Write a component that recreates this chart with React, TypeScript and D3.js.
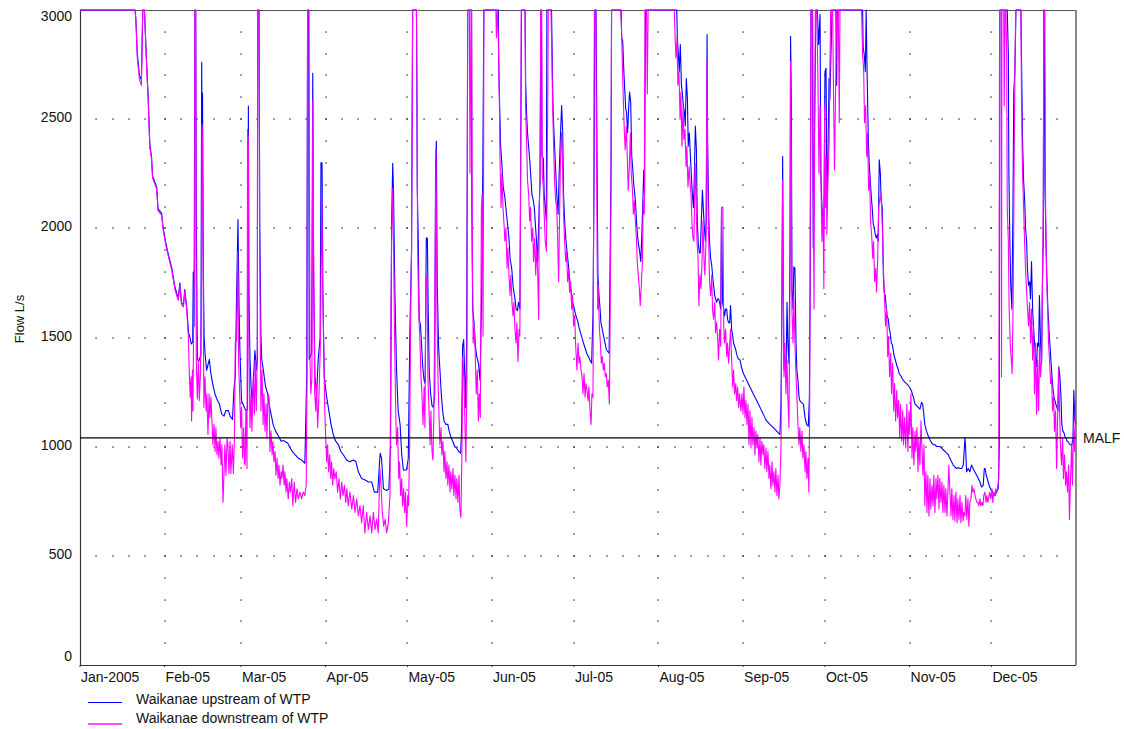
import React from "react";
import * as d3 from "d3";

const YEAR_START = Date.UTC(2005, 0, 1);
const YEAR_END = Date.UTC(2006, 0, 1);
const monthLabels = ["Jan-2005", "Feb-05", "Mar-05", "Apr-05", "May-05", "Jun-05", "Jul-05", "Aug-05", "Sep-05", "Oct-05", "Nov-05", "Dec-05"];
const yTickValues = [0, 500, 1000, 1500, 2000, 2500, 3000];
const gridValues = [500, 1000, 1500, 2000, 2500];
const malfValue = 1040;
const malfLabel = "MALF";
const yAxisTitle = "Flow L/s";
const seriesNames = ["Waikanae upstream of WTP", "Waikanae downstream of WTP"];
const seriesColors = ["#0000ff", "#ff00ff"];

// [day of 2005 (0 = 1 Jan), flow L/s] — values above 3000 are shown at the axis maximum
const upstream: [number, number][] = [
  [0,3000],[20.2,3000],[20.5,2950],[21.0,2800],[21.8,2700],[22.5,2680],[23.0,3000],[23.6,3000],[24.0,2880],[24.4,2760],[25.0,2600],[25.6,2380],[26.2,2330],[26.6,2240],[28.1,2190],[28.6,2090],[29.9,2070],[30.5,2000],[31.5,1930],[32.4,1880],[33.6,1820],[34.8,1730],[36.0,1680],[36.6,1750],[37.2,1660],[37.9,1650],[38.4,1720],[39.1,1640],[39.8,1520],[40.3,1500],[40.8,1470],[41.3,1480],[41.5,1800],[41.8,1550],[42.1,3000],[42.4,3000],[42.6,2100],[43.0,1400],[43.5,1390],[44.3,1420],[44.6,2760],[44.8,2200],[44.9,2620],[45.2,1790],[45.5,1500],[45.8,1430],[46.4,1350],[47.4,1400],[47.9,1340],[48.6,1290],[49.5,1240],[50.1,1220],[51.1,1195],[51.9,1150],[52.8,1140],[53.4,1165],[54.4,1165],[55.0,1140],[55.9,1125],[56.4,1260],[56.9,1320],[57.4,1710],[57.9,2040],[58.3,1630],[58.6,1440],[59.2,1210],[59.9,1190],[60.8,1165],[61.4,1170],
  [61.7,2560],[61.9,1720],[62.3,1400],[62.7,1270],[63.1,1195],[64.1,1440],[64.7,1350],[65.0,1400],[65.1,3000],[65.6,3000],[65.9,1995],[66.3,1510],[66.6,1400],[67.2,1350],[67.5,1320],[68.0,1275],[68.8,1240],[69.3,1195],[70.0,1150],[70.8,1100],[71.7,1070],[72.7,1050],[73.7,1025],[74.5,1028],[76.1,1017],[77.0,994],[77.8,978],[78.8,963],[80.0,947],[81.2,939],[82.4,924],[83.1,1330],[83.4,3000],[83.8,3000],[84.0,1400],[84.9,1430],[85.3,2710],[85.6,1790],[86.1,1320],[86.7,1240],[87.3,1400],[88.0,1500],[88.3,2300],[88.7,2300],[89.0,1710],[89.5,1320],[90.4,1227],[91.2,1164],[92.0,1102],[92.8,1056],[93.7,1025],[94.7,1009],[95.6,978],[96.5,963],[97.7,939],[98.9,931],[100.2,939],[101.1,931],[102.0,885],[103.2,854],[104.7,846],[105.7,838],[106.9,838],[107.9,792],[109.1,792],[110.0,970],[110.5,947],[111.2,807],[112.4,799],[113.2,807],[113.8,1009],[114.2,2034],[114.6,2298],[114.9,2158],[115.4,1708],[116.0,1351],[116.6,1164],[117.3,1102],[117.9,963],[118.5,893],[119.7,893],[120.3,947],[120.9,1537],[121.5,1894],[121.9,3000],
  [123.3,3000],[123.4,2756],[123.6,2189],[124.0,1925],[124.3,1584],[124.8,1553],[125.2,1460],[125.6,1366],[126.1,1304],[126.5,1289],[126.9,1956],[127.3,1956],[127.6,1630],[128.0,1335],[128.5,1242],[129.0,1188],[129.5,1180],[130.0,1242],[130.3,2298],[130.6,2399],[130.9,1755],[131.4,1460],[131.9,1351],[132.4,1242],[132.9,1164],[133.4,1118],[134.1,1102],[134.8,1102],[135.3,1071],[135.8,1048],[136.6,1025],[137.3,1001],[138.0,994],[138.8,978],[139.5,970],[139.9,1102],[140.2,1460],[140.6,1491],[141.0,1320],[141.3,1180],[141.7,1475],[142.1,3000],[143.5,3000],[143.6,2096],[143.9,1630],[144.4,1568],[144.9,1460],[145.4,1413],[146.0,1382],[146.6,1304],[147.2,1700],[147.6,2252],[148.0,3000],[153.3,3000],[153.5,2717],[153.9,2500],[154.1,2391],[154.5,2314],[155.1,2189],[155.7,2143],[156.3,2065],[156.7,2019],[157.2,1956],[157.6,1863],[158.2,1817],[158.8,1724],[159.4,1677],[159.8,1630],[160.3,1623],[160.7,1661],[161.2,1630],[161.6,2562],[161.8,3000],[163.1,3000],[163.3,2671],[163.7,2515],[164.0,2438],[164.4,2376],[164.9,2298],[165.3,2220],[165.6,2158],[166.1,2127],[166.5,2096],[166.8,2034],[167.3,1941],[167.7,1848],[168.1,2019],[168.6,2220],[168.9,3000],[169.1,3000],[169.3,2330],[169.8,2321],[170.1,2158],[170.5,2096],[170.9,2034],[171.1,3000],[172.8,3000],[173.2,2655],[173.4,2531],[173.8,2407],[174.2,2298],[174.7,2158],[175.2,2065],[175.6,2252],[176.1,2438],[176.5,2562],[176.9,2438],[177.2,2158],[177.6,2034],[178.1,1941],[178.6,1879],[179.1,1817],[179.5,1755],[180.0,1708],[180.5,1661],[181.0,1640],[181.5,1610],[182.0,1590],[182.4,1575],[182.9,1545],
  [183.4,1522],[183.8,1506],[184.5,1475],[185.1,1452],[185.7,1428],[186.3,1413],[186.9,1397],[187.5,1382],[188.0,1615],[188.4,2252],[188.6,3000],[189.1,3000],[189.3,2655],[189.6,2096],[189.8,1786],[190.2,1692],[190.6,1630],[190.9,1568],[191.4,1537],[191.9,1506],[192.4,1475],[192.9,1444],[193.4,1436],[193.9,1428],[194.2,1770],[194.6,2267],[194.8,3000],[198.3,3000],[198.5,2873],[198.9,2857],[199.2,2748],[199.6,2640],[200.0,2547],[200.3,2531],[200.7,2438],[201.1,2562],[201.4,2624],[201.8,2578],[202.2,2329],[202.5,2283],[202.9,2205],[203.3,2158],[203.6,2112],[204.0,2019],[204.4,1956],[204.7,1925],[205.1,1894],[205.5,1848],[205.8,1941],[206.2,2096],[206.6,2267],[206.9,2158],[207.2,3000],[218.7,3000],[218.9,2873],[219.3,2795],[219.6,2717],[220.0,2842],[220.4,2655],[220.7,2624],[221.1,2562],[221.5,2531],[221.8,2469],[222.2,2686],[222.6,2593],[222.9,2376],[223.3,2438],[223.7,2329],[224.0,2252],[224.4,2158],[224.8,2096],[225.1,2220],[225.5,2469],[225.9,2360],[226.2,2034],[226.6,1925],[227.0,1887],[227.3,1887],[227.7,2034],[228.1,2174],[228.4,2096],[228.8,2003],[229.2,1941],[229.5,2034],[229.8,2888],[230.0,2407],[230.4,2065],[230.7,1941],[231.1,1863],[231.5,1832],[231.8,1786],[232.2,1739],[232.6,1692],[232.9,1677],[233.3,1661],[233.7,1677],[234.0,1677],[234.4,1661],[234.8,1630],[235.1,2096],[235.5,1661],[235.9,1630],[236.2,1599],[236.6,1630],[237.0,1630],[237.3,1584],[237.7,1568],[238.1,1568],[238.4,1646],[238.8,1537],[239.2,1506],[239.5,1475],[239.9,1460],[240.3,1444],[240.6,1425],[241.0,1410],[241.4,1400],
  [241.9,1397],[242.5,1359],[243.1,1335],[243.7,1320],[244.3,1304],[244.9,1289],[245.5,1273],[246.1,1258],[246.7,1242],[247.3,1227],[248.0,1211],[248.6,1195],[249.2,1180],[249.8,1164],[250.4,1149],[251.0,1133],[251.6,1118],[252.2,1110],[252.8,1102],[253.5,1094],[254.1,1087],[254.7,1079],[255.3,1071],[255.9,1063],[256.5,1056],[256.9,1203],[257.2,1630],[257.5,2329],[257.7,1786],[258.0,1351],[258.3,1413],[258.7,1320],[259.1,1661],[259.4,1475],[259.8,1382],[260.2,1910],[260.4,2880],[260.7,2562],[260.9,1724],[261.3,1630],[261.6,1824],[262.0,1817],[262.4,1475],[262.7,1351],[263.1,1304],[263.5,1227],[263.8,1211],[264.4,1203],[265.1,1195],[265.7,1133],[266.3,1102],[266.9,1094],[267.3,1227],[267.6,1786],[267.9,3000],[268.4,3000],[268.7,1910],[269.3,2593],[269.7,3000],[270.2,3000],[270.7,2842],[271.2,2980],[271.5,2252],[271.9,2096],[272.3,2034],[272.6,2003],[273.0,2717],[273.4,2733],[273.7,2127],[274.1,2329],[274.5,2686],[274.8,2593],[275.2,2795],[275.6,3000],[277.0,3000],[277.3,2655],[277.5,3000],[286.8,3000],[287.0,2830],[287.4,2795],[287.8,2717],[288.1,3000],[288.5,2671],[288.9,2407],[289.2,2298],[289.6,2220],[290.0,2143],[290.3,2096],[290.7,2019],[291.1,2003],[291.4,1972],[291.8,1956],[292.2,1972],[292.5,1941],[292.9,2314],[293.3,2252],[293.6,2127],[294.0,2096],[294.4,1786],[294.7,1708],[295.1,1692],[295.5,1630],[295.8,1599],[296.2,1584],[296.6,1537],[296.9,1522],[297.3,1475],[297.7,1467],[298.0,1444],[298.4,1413],[298.8,1397],[299.1,1382],[299.5,1366],[299.9,1351],[300.2,1335],[300.6,1328],[301.0,1320],[301.3,1312],[301.7,1304],[302.3,1296],[302.9,1289],
  [303.5,1281],[304.1,1270],[304.7,1255],[305.4,1227],[306.0,1195],[306.6,1188],[307.2,1180],[307.8,1172],[308.4,1203],[308.8,1195],[309.1,1164],[309.6,1102],[310.2,1071],[310.9,1048],[311.5,1032],[312.1,1017],[312.7,1009],[313.3,1009],[313.9,1001],[314.5,1001],[315.1,1001],[315.7,994],[316.3,986],[317.0,978],[317.6,970],[318.2,963],[318.8,947],[319.4,931],[320.0,916],[320.6,908],[321.2,900],[321.8,904],[322.5,900],[323.1,900],[323.7,916],[324.3,1040],[324.5,1009],[324.9,885],[325.5,900],[326.1,885],[326.7,916],[327.3,900],[327.9,885],[328.6,869],[329.2,854],[329.8,838],[330.4,815],[331.0,823],[331.4,900],[331.7,900],[332.1,869],[332.5,854],[332.8,838],[333.4,815],[334.1,799],[334.7,784],[335.3,776],[335.9,792],[336.5,807],[336.9,1009],[337.1,3000],[339.8,3000],[340.2,2800],[340.4,2252],[340.8,1910],[341.1,1739],[341.5,1630],[341.9,2096],[342.2,2624],[342.6,2717],[343.0,3000],[344.8,3000],[345.1,2717],[345.4,2407],[345.8,2220],[346.2,2127],[346.5,2003],[346.9,1941],[347.2,1817],[347.6,1739],[348.0,1755],[348.3,1677],[348.7,1848],[349.1,1630],[349.4,1553],[349.8,1475],[350.2,1413],[350.5,1366],[350.9,1475],[351.3,1460],[351.6,1692],[352.0,1475],[352.4,1382],[352.7,1755],[353.0,1941],[353.2,3000],[353.4,3000],[353.6,2205],[354.0,1941],[354.3,1786],[354.7,1630],[355.1,1537],[355.4,1475],[355.8,1397],[356.2,1320],[356.5,1273],[356.9,1227],[357.3,1211],[357.6,1195],[358.0,1180],[358.4,1164],[358.7,1366],[359.1,1320],[359.5,1227],[359.8,1102],[360.2,1071],[360.6,1063],[360.9,1048],[361.3,1040],[361.7,1025],[362.0,1025],[362.4,1017],[362.8,1009],[363.1,1009],[363.5,1009],[363.9,1040],[364.2,1258],[364.6,1118],[365.0,1102]
];

const downstream: [number, number][] = [
  [0,3000],[20.2,3000],[20.5,2950],[21.0,2780],[21.8,2680],[22.5,2655],[23.0,3000],[23.6,3000],[24.0,2880],[24.4,2750],[25.0,2580],[25.6,2370],[26.2,2320],[26.6,2230],[28.1,2180],[28.6,2080],[29.9,2060],[30.5,1990],[31.5,1920],[32.4,1870],[33.6,1810],[34.8,1720],[36.0,1670],[36.6,1740],[37.2,1650],[37.9,1640],[38.4,1710],[39.1,1630],[39.7,1506],[40.1,1320],[40.4,1227],[40.7,1320],[40.9,1118],[41.2,1351],[41.4,1164],[41.7,1677],[42.0,1879],[42.1,3000],[42.4,3000],[42.6,1397],[43.0,1219],[43.4,1397],[43.7,1211],[44.1,1320],[44.5,1630],[44.7,2477],[44.9,2407],[45.2,1630],[45.4,1180],[45.8,1320],[46.2,1164],[46.5,1242],[46.9,1056],[47.3,1242],[47.6,1133],[48.0,1227],[48.4,1102],[48.7,1009],[49.1,1102],[49.5,978],[49.8,1087],[50.2,963],[50.6,1025],[50.9,947],[51.3,1040],[51.7,916],[52.0,1009],[52.4,745],[52.8,885],[53.1,1009],[53.5,869],[53.9,1040],[54.2,1009],[54.6,877],[55.0,1025],[55.3,877],[55.8,1009],[56.2,877],[56.6,1040],[56.9,1475],[57.4,1491],[57.8,1894],[58.1,1397],[58.5,1242],[58.9,1087],[59.2,1180],[59.6,947],[60.0,1087],[60.3,924],
  [60.5,916],[60.8,1164],[61.2,900],[61.4,2453],[61.7,2407],[61.9,1475],[62.3,1087],[62.7,1242],[63.0,1071],[63.5,1320],[63.9,1149],[64.2,1397],[64.6,1164],[65.0,1475],[65.1,3000],[65.6,3000],[65.8,1987],[66.1,1475],[66.3,1164],[66.7,1351],[67.1,1102],[67.4,1242],[67.8,1071],[68.2,1195],[68.5,1040],[68.9,1242],[69.3,1227],[69.6,978],[70.0,1071],[70.4,963],[70.7,1025],[71.1,931],[71.5,978],[71.8,869],[72.2,947],[72.6,854],[72.9,916],[73.3,823],[73.7,885],[74.0,854],[74.4,916],[74.8,823],[75.1,885],[75.5,792],[75.8,854],[76.3,761],[76.7,838],[77.1,792],[77.6,854],[78.0,730],[78.5,838],[79.0,745],[79.5,807],[80.0,761],[80.6,792],[81.2,761],[81.8,792],[82.4,776],[82.9,823],[83.2,1320],[83.4,3000],[83.9,3000],[84.3,1397],[84.6,1242],[85.0,1320],[85.3,2585],[85.6,1941],[86.0,1242],[86.4,1164],[86.7,1289],[87.1,1087],[87.6,1242],[88.1,1475],[88.6,2158],[88.9,1755],[89.3,1475],[89.7,1164],[90.0,1056],[90.4,931],[90.75,1009],[91.1,885],[91.5,963],[91.9,854],[92.2,931],[92.6,823],[93.0,900],[93.4,854],[93.9,885],[94.4,792],[94.9,854],[95.4,761],[95.9,838],[96.4,776],[96.9,823],[97.4,745],[97.8,807],[98.3,730],[98.9,792],[99.6,714],[100.2,776],[100.8,699],[101.4,761],[102.0,683],[102.6,730],[103.2,652],[103.8,730],[104.4,605],[105.0,699],[105.7,621],[106.3,683],[106.9,605],[107.5,699],[108.1,621],[108.7,667],[109.3,605],[109.9,900],[110.3,823],[110.8,699],[111.3,636],[111.8,667],[112.4,605],[113.0,652],[113.6,776],[113.96,1630],[114.2,1941],[114.6,2182],[114.9,1941],[115.3,1475],[115.7,1164],[116.0,1009],[116.4,1087],[116.8,854],[117.1,931],[117.5,776],[117.9,854],[118.2,730],[118.6,807],[118.97,699],[119.3,792],[119.7,636],[120.1,776],[120.4,730],[120.8,1009],[121.2,1630],[121.5,1894],[121.9,3000],
  [123.3,3000],[123.5,2640],[123.7,1941],[124.1,1630],[124.6,1475],[124.95,1320],[125.3,1242],[125.7,1102],[126.1,1273],[126.4,1087],[126.8,1786],[127.2,1755],[127.5,1320],[127.9,1164],[128.3,1009],[128.6,1164],[129.0,978],[129.35,939],[129.7,1164],[130.1,1786],[130.45,2360],[130.8,1630],[131.2,1320],[131.5,1164],[131.9,1009],[132.3,1087],[132.6,963],[133.0,1025],[133.4,885],[133.7,978],[134.1,854],[134.5,931],[134.8,823],[135.2,916],[135.6,792],[135.9,885],[136.3,807],[136.7,900],[137.0,776],[137.4,869],[137.8,761],[138.1,854],[138.5,745],[138.9,869],[139.2,714],[139.6,675],[140.0,1009],[140.3,1413],[140.7,1320],[141.1,1087],[141.4,931],[141.8,1320],[142.05,3000],[142.7,3000],[142.9,2252],[143.3,3000],[143.5,3000],[143.8,1863],[144.1,1475],[144.5,1553],[144.9,1397],[145.2,1242],[145.6,1351],[146.0,1118],[146.3,1242],[146.7,1133],[147.1,2096],[147.4,2158],[147.7,1506],[147.9,2252],[148.0,3000],[152.4,3000],[152.6,2873],[152.9,3000],[153.3,2873],[153.7,2562],[153.9,2329],[154.3,2096],[154.6,2252],[155.0,2096],[155.4,2019],[155.7,1941],[156.1,2003],[156.5,1817],[156.8,1910],[157.2,1786],[157.6,1692],[157.9,1786],[158.3,1661],[158.7,1599],[159.0,1661],[159.4,1537],[159.8,1475],[160.1,1568],[160.5,1390],[160.9,1537],[161.2,1506],[161.5,2252],[161.7,3000],[163.1,3000],[163.3,2562],[163.7,2376],[164.0,2220],[164.4,2158],[164.8,2034],[165.1,2096],[165.5,1941],[165.9,2003],[166.2,1848],[166.6,1956],[167.0,1786],[167.3,1910],[167.7,1801],[168.1,1584],[168.3,2096],[168.6,2252],[168.8,3000],[169.2,3000],[169.4,2252],[169.8,2189],[170.1,2065],[170.5,1941],[170.9,1894],[171.1,2096],[171.4,2562],[171.6,3000],[172.6,3000],[172.8,2873],[173.2,2562],[173.6,2360],[173.9,2220],[174.3,2127],[174.7,2096],[175.0,1972],[175.4,1755],[175.8,2096],[176.1,2329],[176.5,2438],[176.9,2252],[177.2,2065],[177.6,1941],[178.0,1848],[178.3,1894],[178.7,1755],[179.1,1817],[179.4,1708],[179.8,1755],[180.2,1630],[180.5,1692],[180.9,1553],[181.3,1599],[181.6,1475],
  [182.1,1351],[182.5,1475],[182.9,1382],[183.2,1413],[183.6,1351],[184.0,1320],[184.3,1242],[184.7,1335],[185.1,1227],[185.4,1289],[185.8,1258],[186.2,1211],[186.5,1273],[186.9,1164],[187.3,1102],[187.6,1242],[188.0,1227],[188.2,1941],[188.5,3000],[189.0,3000],[189.2,2515],[189.5,1941],[189.7,1630],[189.95,1739],[190.3,1553],[190.7,1475],[191.05,1382],[191.4,1413],[191.8,1351],[192.1,1382],[192.5,1320],[192.9,1335],[193.2,1273],[193.6,1304],[194.0,1195],[194.3,1630],[194.6,2158],[194.8,3000],[198.1,3000],[198.4,2935],[198.7,2780],[199.1,2593],[199.5,2438],[199.8,2360],[200.2,2469],[200.6,2314],[200.9,2174],[201.3,2283],[201.7,2438],[202.0,2252],[202.4,2189],[202.8,2065],[203.1,2127],[203.5,2034],[203.9,1956],[204.2,1848],[204.6,1786],[205.0,1724],[205.3,1646],[205.7,1739],[206.1,1848],[206.4,2127],[206.8,2065],[207.05,3000],[207.6,3000],[207.9,2616],[208.2,3000],[217.8,3000],[218.0,2904],[218.4,2780],[218.8,2873],[219.1,2655],[219.5,2717],[219.9,2500],[220.2,2624],[220.6,2376],[221.0,2562],[221.3,2407],[221.7,2453],[222.1,2283],[222.4,2376],[222.8,2189],[223.2,2283],[223.5,2220],[223.9,2158],[224.3,2019],[224.6,1956],[225.0,1941],[225.4,2298],[225.7,2174],[226.1,1941],[226.5,1863],[226.8,1646],[227.2,1786],[227.6,1724],[227.9,1832],[228.3,2034],[228.7,1848],[229.0,1786],[229.4,1941],[229.8,2780],[230.0,2252],[230.4,1941],[230.7,1755],[231.1,1692],[231.5,1786],[231.8,1630],[232.2,1584],[232.6,1661],[232.9,1522],[233.3,1568],[233.7,1491],[234.0,1397],[234.4,1537],[234.8,1460],[235.1,2096],[235.6,2096],[235.9,1553],[236.2,1475],[236.6,1537],[237.0,1413],[237.3,1475],[237.7,1382],[238.1,1475],[238.4,1537],[238.8,1397],[239.2,1273],[239.5,1351],[239.9,1242],[240.3,1289],[240.6,1211],[241.0,1273],[241.4,1180],[241.7,1242],
  [242.2,1164],[242.6,1242],[242.95,1149],[243.3,1273],[243.7,1133],[244.05,1211],[244.4,1102],[244.8,1195],[245.15,1009],[245.5,1164],[245.9,994],[246.25,1133],[246.6,1009],[247.0,1087],[247.35,963],[247.7,1071],[248.1,994],[248.4,1056],[248.8,931],[249.2,1040],[249.5,916],[249.9,1025],[250.3,963],[250.6,1009],[251.0,900],[251.4,994],[251.7,885],[252.1,978],[252.5,854],[252.8,916],[253.2,807],[253.6,931],[253.9,823],[254.3,885],[254.7,792],[255.0,900],[255.4,776],[255.8,869],[256.1,761],[256.5,823],[256.9,1009],[257.2,1630],[257.5,2220],[257.7,1786],[258.0,1320],[258.3,1475],[258.7,1242],[259.1,1397],[259.4,1227],[259.8,1087],[260.2,1786],[260.4,2764],[260.7,2252],[260.9,1630],[261.3,1475],[261.6,1677],[262.0,1475],[262.4,1320],[262.7,1242],[263.1,1102],[263.5,1009],[263.8,1087],[264.2,978],[264.6,1071],[264.9,947],[265.3,1009],[265.7,885],[266.0,978],[266.4,854],[266.8,947],[267.1,792],[267.4,1164],[267.6,1941],[267.9,3000],[268.5,3000],[268.7,2174],[269.0,1630],[269.2,2407],[269.5,3000],[270.0,3000],[270.4,2717],[270.8,2252],[271.2,2562],[271.5,2252],[271.9,1941],[272.3,2096],[272.6,1724],[272.9,2562],[273.1,2096],[273.4,2329],[273.7,1972],[274.1,2220],[274.5,2376],[274.8,2717],[275.1,3000],[275.8,3000],[276.2,2562],[276.5,2267],[276.9,2640],[277.3,3000],[277.9,3000],[278.25,2484],[278.5,3000],[286.4,3000],[286.8,2795],[287.2,2717],[287.5,2484],[287.9,2562],[288.3,2329],[288.6,2438],[289.0,2174],[289.4,2252],[289.7,2034],[290.1,1972],[290.5,1863],[290.8,1941],[291.2,1755],[291.6,1817],[291.9,1708],[292.3,1848],[292.7,2096],[293.0,2127],[293.4,2158],[293.8,2096],[294.1,1972],[294.5,1786],[294.9,1661],[295.2,1553],[295.6,1630],[296.0,1413],[296.3,1506],[296.7,1320],[297.1,1428],[297.4,1242],[297.8,1382],[298.2,1164],[298.5,1289],[298.9,1118],[299.3,1258],[299.6,1133],[300.0,1211],[300.4,1040],[300.7,1195],[301.1,1025],[301.5,1164],[301.8,1009],[302.2,1133],[302.6,994],[302.9,1118],
  [303.0,1195],[303.4,978],[303.8,1164],[304.1,1056],[304.5,1242],[304.9,947],[305.2,1087],[305.6,916],[306.0,1071],[306.3,978],[306.7,1087],[307.1,885],[307.4,1040],[307.8,916],[308.2,1118],[308.5,1009],[308.9,869],[309.3,1009],[309.6,730],[310.0,885],[310.4,699],[310.7,869],[311.1,683],[311.5,854],[311.8,714],[312.2,823],[312.6,730],[312.9,869],[313.3,699],[313.7,854],[314.0,761],[314.4,869],[314.8,714],[315.1,854],[315.5,745],[315.9,838],[316.2,699],[316.6,823],[317.0,699],[317.3,807],[317.7,683],[318.1,807],[318.4,916],[318.8,792],[319.2,683],[319.5,807],[319.9,667],[320.3,776],[320.6,660],[321.0,792],[321.4,652],[321.7,761],[322.1,667],[322.5,776],[322.8,652],[323.2,745],[323.6,660],[323.9,699],[324.3,683],[324.6,776],[325.0,667],[325.4,761],[325.75,636],[326.1,745],[326.5,761],[326.9,823],[327.2,792],[327.6,807],[328.0,776],[328.3,761],[328.7,745],[329.05,745],[329.4,730],[329.8,761],[330.1,730],[330.5,745],[330.9,730],[331.2,776],[331.6,792],[332.0,745],[332.3,776],[332.7,745],[333.1,776],[333.4,792],[333.8,761],[334.2,807],[334.5,745],[334.9,792],[335.3,776],[335.6,807],[336.0,792],[336.4,823],[336.7,854],[337.0,3000],[337.6,3000],[337.7,1320],[337.85,3000],[338.5,3000],[338.7,2562],[339.0,3000],[339.3,3000],[339.6,2795],[339.8,2096],[340.2,1941],[340.5,1630],[340.9,1475],[341.3,1397],[341.6,1335],[342.0,1708],[342.4,2407],[342.6,2717],[342.9,3000],[344.8,3000],[345.05,2578],[345.4,2252],[345.8,2096],[346.15,1941],[346.5,1817],[346.9,1708],[347.25,1630],[347.6,1553],[348.0,1661],[348.35,1475],[348.7,1630],[349.1,1397],[349.45,1553],[349.8,1242],[350.2,1475],[350.55,1149],[350.9,1397],[351.3,1164],[351.65,1475],[352.0,1320],[352.4,1397],[352.75,1786],[353.0,2096],[353.2,3000],[353.6,3000],[353.85,2096],[354.2,1786],[354.6,1630],[354.95,1475],[355.3,1397],[355.7,1289],[356.05,1320],[356.4,1164],[356.8,1242],[357.1,1071],[357.5,1164],[357.9,900],[358.2,1087],[358.6,1351],[359.0,1164],[359.3,1009],[359.7,916],[360.1,1040],[360.4,854],[360.8,963],[361.2,823],[361.5,885],[361.9,792],[362.3,916],[362.6,667],[363.0,854],[363.4,1009],[363.7,823],[364.1,1087],[364.5,978],[364.8,1211]
];

const seriesData = [upstream, downstream];

export default function App() {
  const W = 1124, H = 729;
  const L = 80, R = 1076, T = 10, B = 665;
  const font = '"Liberation Sans", Arial, Helvetica, sans-serif';

  const x = d3.scaleUtc().domain([new Date(YEAR_START), new Date(YEAR_END)]).range([L, R]);
  const y = d3.scaleLinear().domain([0, 3000]).range([B, T]);
  const toDate = (day: number) => new Date(YEAR_START + day * 86400000);
  const line = d3.line<[number, number]>().x(d => x(toDate(d[0]))).y(d => y(d[1]));
  const months = d3.utcMonth.range(new Date(YEAR_START), new Date(YEAR_END));

  const dots: [number, number][] = [];
  months.forEach((m, i) => {
    [0, 6, 12, 18, 24].forEach(off => {
      if (i === 0 && off === 0) return;
      const xx = x(d3.utcDay.offset(m, off));
      gridValues.forEach(v => dots.push([xx, y(v)]));
    });
    if (i > 0) {
      for (let v = 100; v < 3000; v += 100) dots.push([x(m), y(v)]);
    }
  });

  return (
    <div style={{ position: "absolute", left: 0, top: 0 }}>
      <svg width={W} height={H} style={{ display: "block", background: "#fff" }}>
        <rect x={0} y={0} width={W} height={H} fill="#fff" />
        {dots.map((d, i) => (
          <rect key={i} x={Math.round(d[0]) - 0.6} y={Math.round(d[1]) - 0.6} width={1.3} height={1.3} fill="#222" />
        ))}
        {/* frame */}
        <line x1={L} x2={R} y1={T + 0.5} y2={T + 0.5} stroke="#555" strokeWidth={1} />
        <line x1={R} x2={R} y1={T} y2={B} stroke="#888" strokeWidth={2} />
        <line x1={L + 0.5} x2={L + 0.5} y1={T} y2={B} stroke="#333" strokeWidth={1.2} />
        <line x1={L} x2={R} y1={B + 0.5} y2={B + 0.5} stroke="#333" strokeWidth={1.2} />
        {months.map((m, i) => (
          <line key={"t" + i} x1={x(m)} x2={x(m)} y1={B} y2={B + 2} stroke="#333" strokeWidth={1} />
        ))}
        {/* series */}
        {seriesData.map((s, i) => (
          <path key={"s" + i} d={line(s) || ""} fill="none" stroke={seriesColors[i]} strokeWidth={1.1} strokeLinejoin="round" />
        ))}
        {/* MALF */}
        <line x1={L} x2={R} y1={y(malfValue)} y2={y(malfValue)} stroke="#000" strokeWidth={1.2} />
        <text x={R + 7} y={y(malfValue) + 5} fontFamily={font} fontSize={14} fill="#111">{malfLabel}</text>
        {/* y ticks */}
        {yTickValues.map(v => (
          <text key={"y" + v} x={72} y={Math.min(Math.max(y(v) + 3, 21), 661)} textAnchor="end" fontFamily={font} fontSize={14} fill="#111">{v}</text>
        ))}
        <text transform={`translate(24,319) rotate(-90)`} textAnchor="middle" fontFamily={font} fontSize={13} fill="#111">{yAxisTitle}</text>
        {/* x ticks */}
        {months.map((m, i) => (
          <text key={"x" + i} x={x(m) + 1} y={682} fontFamily={font} fontSize={14} fill="#111">{monthLabels[i]}</text>
        ))}
        {/* legend */}
        {seriesNames.map((n, i) => (
          <g key={"l" + i}>
            <line x1={88} x2={122} y1={702.5 + i * 21.5} y2={702.5 + i * 21.5} stroke={seriesColors[i]} strokeWidth={i === 0 ? 1.2 : 1.8} strokeOpacity={i === 0 ? 1 : 0.7} />
            <text x={136} y={703.5 + i * 19.5} fontFamily={font} fontSize={14} fill="#111">{n}</text>
          </g>
        ))}
      </svg>
    </div>
  );
}
